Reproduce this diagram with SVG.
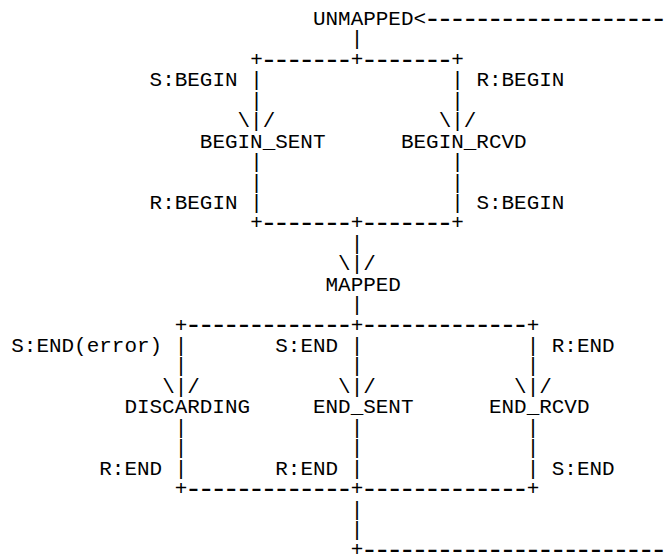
<svg xmlns="http://www.w3.org/2000/svg" width="665" height="555" viewBox="0 0 665 555">
<style>
text{font-family:"Liberation Mono","DejaVu Sans Mono",monospace;font-size:20.95px;fill:#000;white-space:pre}
text.d{font-size:29px;letter-spacing:-4.83px}
</style>
<rect width="665" height="555" fill="#fff"/>
<g id="connectors">
<text x="413.54" y="25">&lt;</text><text class="d" x="423.70" y="27.67">-------------------</text>
<text x="350.69" y="45.44">|</text>
<text x="250.13" y="65.88">+</text><text class="d" x="260.29" y="68.55">-------</text><text x="350.69" y="65.88">+</text><text class="d" x="360.85" y="68.55">-------</text><text x="451.25" y="65.88">+</text>
<text x="250.13" y="86.32">|</text><text x="451.25" y="86.32">|</text>
<text x="250.13" y="106.76">|</text><text x="451.25" y="106.76">|</text>
<text x="237.56" y="127.2">\|/</text><text x="438.68" y="127.2">\|/</text>
<text x="250.13" y="168.08">|</text><text x="451.25" y="168.08">|</text>
<text x="250.13" y="188.52">|</text><text x="451.25" y="188.52">|</text>
<text x="250.13" y="208.96">|</text><text x="451.25" y="208.96">|</text>
<text x="250.13" y="229.4">+</text><text class="d" x="260.29" y="232.07">-------</text><text x="350.69" y="229.4">+</text><text class="d" x="360.85" y="232.07">-------</text><text x="451.25" y="229.4">+</text>
<text x="350.69" y="249.84">|</text>
<text x="338.12" y="270.28">\|/</text>
<text x="350.69" y="311.16">|</text>
<text x="174.71" y="331.6">+</text><text class="d" x="184.87" y="334.27">-------------</text><text x="350.69" y="331.6">+</text><text class="d" x="360.85" y="334.27">-------------</text><text x="526.67" y="331.6">+</text>
<text x="174.71" y="352.04">|</text><text x="350.69" y="352.04">|</text><text x="526.67" y="352.04">|</text>
<text x="174.71" y="372.48">|</text><text x="350.69" y="372.48">|</text><text x="526.67" y="372.48">|</text>
<text x="162.14" y="392.92">\|/</text><text x="338.12" y="392.92">\|/</text><text x="514.1" y="392.92">\|/</text>
<text x="174.71" y="433.8">|</text><text x="350.69" y="433.8">|</text><text x="526.67" y="433.8">|</text>
<text x="174.71" y="454.24">|</text><text x="350.69" y="454.24">|</text><text x="526.67" y="454.24">|</text>
<text x="174.71" y="474.68">|</text><text x="350.69" y="474.68">|</text><text x="526.67" y="474.68">|</text>
<text x="174.71" y="495.12">+</text><text class="d" x="184.87" y="497.79">-------------</text><text x="350.69" y="495.12">+</text><text class="d" x="360.85" y="497.79">-------------</text><text x="526.67" y="495.12">+</text>
<text x="350.69" y="515.56">|</text>
<text x="350.69" y="536">|</text>
<text x="350.69" y="556.44">+</text><text class="d" x="360.85" y="559.11">------------------------</text>
<g id="edge-labels">
<text x="149.57" y="86.32">S:BEGIN</text>
<text x="476.39" y="86.32">R:BEGIN</text>
<text x="149.57" y="208.96">R:BEGIN</text>
<text x="476.39" y="208.96">S:BEGIN</text>
<text x="11.3" y="352.04">S:END(error)</text>
<text x="275.27" y="352.04">S:END</text>
<text x="551.81" y="352.04">R:END</text>
<text x="99.29" y="474.68">R:END</text>
<text x="275.27" y="474.68">R:END</text>
<text x="551.81" y="474.68">S:END</text>
</g>
</g>
<g id="UNMAPPED"><text x="312.98" y="25">UNMAPPED</text></g>
<g id="BEGIN_SENT"><text x="199.85" y="147.64">BEGIN_SENT</text></g>
<g id="BEGIN_RCVD"><text x="400.97" y="147.64">BEGIN_RCVD</text></g>
<g id="MAPPED"><text x="325.55" y="290.72">MAPPED</text></g>
<g id="DISCARDING"><text x="124.43" y="413.36">DISCARDING</text></g>
<g id="END_SENT"><text x="312.98" y="413.36">END_SENT</text></g>
<g id="END_RCVD"><text x="488.96" y="413.36">END_RCVD</text></g>
</svg>
